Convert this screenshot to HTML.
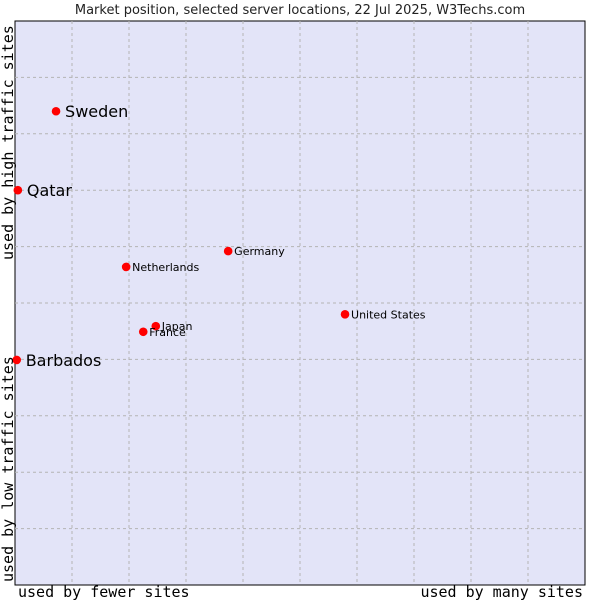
<!DOCTYPE html>
<html><head><meta charset="utf-8"><style>
body{margin:0;background:#fff;}
svg text{font-family:"DejaVu Sans","Liberation Sans",sans-serif;}
.mono{font-family:"DejaVu Sans Mono","Liberation Mono",monospace !important;}
</style></head><body>
<svg id="chart" width="600" height="600">
<text x="300" y="14" text-anchor="middle" font-size="13" fill="#222">Market position, selected server locations, 22 Jul 2025, W3Techs.com</text>
<rect x="15" y="21" width="570" height="564" fill="#e3e4f8" stroke="#000" stroke-width="1"/>
<g id="grid"></g>
<g id="points"></g>
<text class="mono" x="18" y="597" font-size="15" fill="#000">used by fewer sites</text>
<text class="mono" x="583" y="597" text-anchor="end" font-size="15" fill="#000">used by many sites</text>
<text class="mono" transform="translate(13,582) rotate(-90)" font-size="15" fill="#000">used by low traffic sites</text>
<text class="mono" transform="translate(13,260) rotate(-90)" font-size="15" fill="#000">used by high traffic sites</text>
</svg>
<script>
const names = ["Sweden","Qatar","Barbados","Netherlands","Germany","United States","Japan","France"];
const xVals = [0.72,0.05,0.03,1.95,3.74,5.79,2.47,2.25];
const yVals = [8.40,7.00,3.99,5.64,5.92,4.80,4.59,4.49];
const bigLabel = [true,true,true,false,false,false,false,false];
const NS="http://www.w3.org/2000/svg";
const X0=15,X1=585,Y0=585,Y1=21;
const sx=v=>X0+(X1-X0)*v/10;
const sy=v=>Y0-(Y0-Y1)*v/10;
const grid=document.getElementById('grid');
for(let i=1;i<10;i++){
  let l=document.createElementNS(NS,'line');
  l.setAttribute('x1',sx(i));l.setAttribute('x2',sx(i));l.setAttribute('y1',Y1);l.setAttribute('y2',Y0);
  l.setAttribute('stroke','#b4b4b4');l.setAttribute('stroke-dasharray','3,3');
  
  
  grid.appendChild(l);
  let h=document.createElementNS(NS,'line');
  h.setAttribute('y1',sy(i));h.setAttribute('y2',sy(i));h.setAttribute('x1',X0);h.setAttribute('x2',X1);
  h.setAttribute('stroke','#b4b4b4');h.setAttribute('stroke-dasharray','3,3');
  
  
  grid.appendChild(h);
}
const pts=document.getElementById('points');
names.forEach((n,i)=>{
  const x=sx(xVals[i]),y=sy(yVals[i]);
  const d=document.createElementNS(NS,'circle');
  d.setAttribute('cx',x);d.setAttribute('cy',y);d.setAttribute('r',4.3);
  d.setAttribute('fill','#f00');
  
  
  pts.appendChild(d);
  const t=document.createElementNS(NS,'text');
  const big=bigLabel[i];
  t.setAttribute('x',x+(big?9:6));t.setAttribute('y',y+(big?6:4));
  t.setAttribute('font-size',big?16:11);t.setAttribute('fill','#000');
  t.textContent=n;
  
  
  pts.appendChild(t);
});
</script>
</body></html>
